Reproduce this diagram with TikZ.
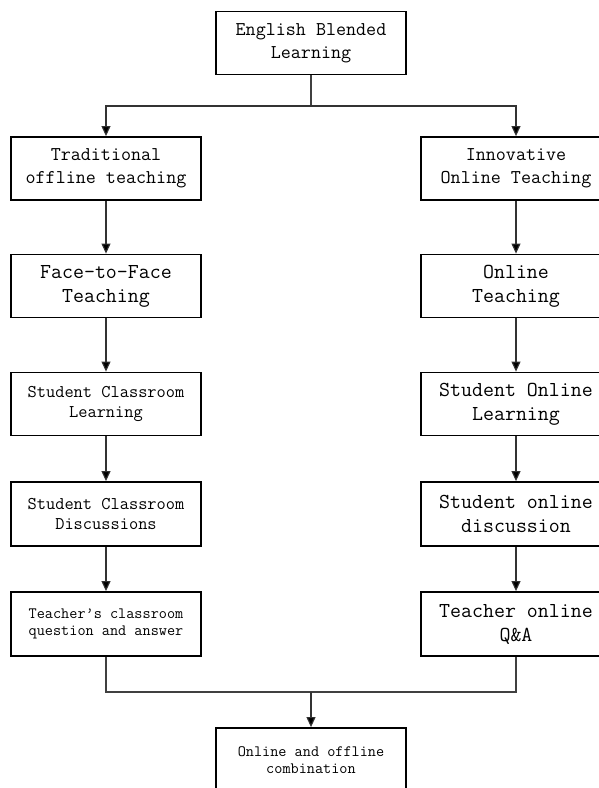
\documentclass[tikz,border=0pt]{standalone}
\usepackage{fontspec}
\usepackage{tikz}
\usetikzlibrary{arrows.meta, positioning, calc}

\begin{document}
\begin{tikzpicture}[x=1pt, y=-1pt,
  box/.style={draw, line width=1.8pt, minimum width=190pt, minimum height=63pt, align=center, inner sep=2pt, font=\ttfamily\fontsize{19.5}{23}\selectfont},
  bigfont/.style={font=\ttfamily\fontsize{21.3}{24}\selectfont},
  smallfont/.style={font=\ttfamily\fontsize{17.9}{20}\selectfont},
  tinyfont/.style={font=\ttfamily\fontsize{15.8}{17}\selectfont},
  link/.style={line width=1.1pt, draw=black!80, -{Triangle[length=10pt, width=9pt, fill=black]}},
  plainlink/.style={line width=1.1pt, draw=black!75}]
  \useasboundingbox (0, 0) rectangle (599, 788);
  \clip (0, 0) rectangle (599, 788);

  % Top
  \node[box] (blend) at (311, 43) {English Blended\\Learning};
  \coordinate (split) at (311, 106);

  % Offline column
  \node[box] (trad) at (106, 168.5) {Traditional\\offline teaching};
  \node[box, bigfont] (face) at (106, 286) {Face-to-Face\\Teaching};
  \node[box, smallfont] (classlearn) at (106, 404) {Student Classroom\\Learning};
  \node[box, smallfont, minimum height=64pt] (classdisc) at (106, 514) {Student Classroom\\Discussions};
  \node[box, tinyfont, minimum height=64pt] (classqa) at (106, 624) {Teacher’s classroom\\question and answer};

  % Online column
  \node[box] (innov) at (516, 168.5) {Innovative\\Online Teaching};
  \node[box, bigfont] (online) at (516, 286) {Online\\Teaching};
  \node[box, bigfont] (onlearn) at (516, 404) {Student Online\\Learning};
  \node[box, bigfont, minimum height=64pt] (ondisc) at (516, 514) {Student online\\discussion};
  \node[box, bigfont, minimum height=64pt] (onqa) at (516, 624) {Teacher online\\Q\&A};

  % Bottom
  \coordinate (join) at (311, 692);
  \node[box, tinyfont, minimum height=64pt] (combo) at (311, 760) {Online and offline\\combination};

  % Connectors
  \draw[plainlink] (blend) -- (split);
  \draw[link] (split) -| (trad);
  \draw[link] (split) -| (innov);
  \draw[link] (trad) -- (face);
  \draw[link] (face) -- (classlearn);
  \draw[link] (classlearn) -- (classdisc);
  \draw[link] (classdisc) -- (classqa);
  \draw[link] (innov) -- (online);
  \draw[link] (online) -- (onlearn);
  \draw[link] (onlearn) -- (ondisc);
  \draw[link] (ondisc) -- (onqa);
  \draw[plainlink] (classqa) |- (join);
  \draw[plainlink] (onqa) |- (join);
  \draw[link] (join) -- (combo);
\end{tikzpicture}
\end{document}
